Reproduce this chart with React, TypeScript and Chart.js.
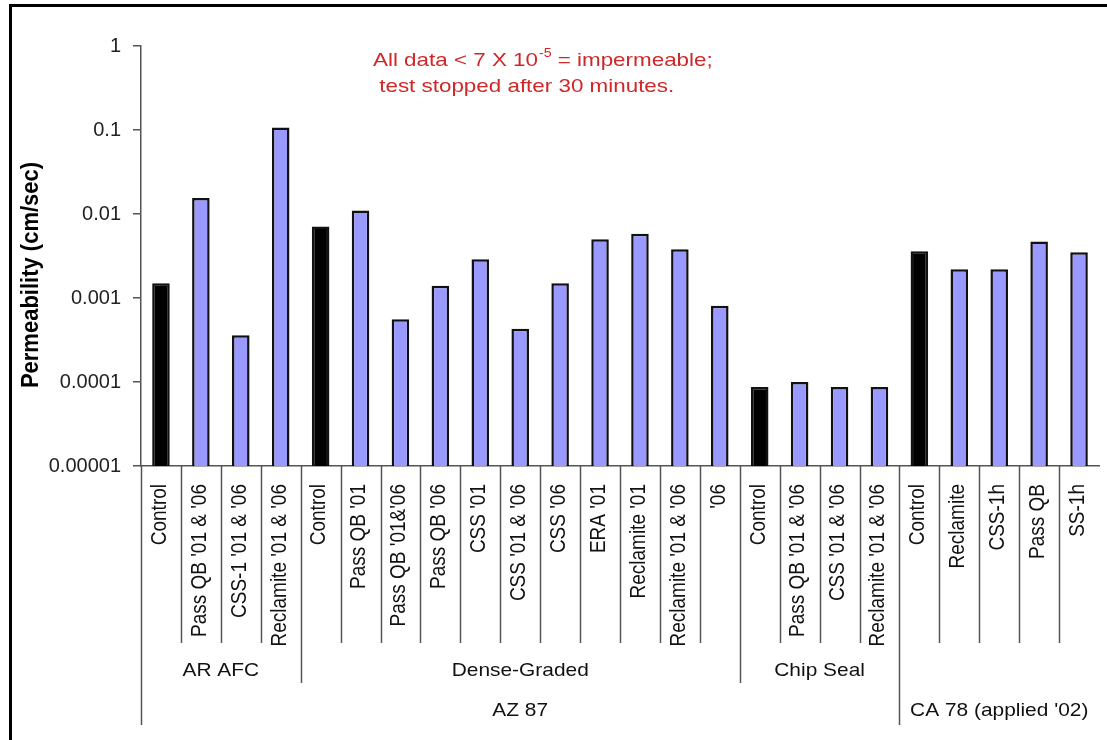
import React, { useEffect, useRef } from "react";
import { Chart, registerables } from "chart.js";

Chart.register(...registerables);

const FONT = "'Liberation Sans', Arial, Helvetica, sans-serif";

const categories = [
  "Control", "Pass QB '01 & '06", "CSS-1 '01 & '06", "Reclamite '01 & '06",
  "Control", "Pass QB '01", "Pass QB '01&'06", "Pass QB '06", "CSS '01", "CSS '01 & '06",
  "CSS '06", "ERA '01", "Reclamite '01", "Reclamite '01 & '06", "'06",
  "Control", "Pass QB '01 & '06", "CSS '01 & '06", "Reclamite '01 & '06",
  "Control", "Reclamite", "CSS-1h", "Pass QB", "SS-1h",
];

const permeability = [
  0.0015, 0.0155, 0.00036, 0.107,
  0.0071, 0.011, 0.00056, 0.0014, 0.0029, 0.00043, 0.0015, 0.005, 0.0058, 0.0038, 0.00081,
  0.000087, 0.0001, 0.000087, 0.000087,
  0.0036, 0.0022, 0.0022, 0.0047, 0.0035,
];

const subGroupLabels = ["AR AFC", "Dense-Graded", "Chip Seal", ""];
const subGroupStarts = [0, 4, 15, 19];
const subGroupEnds = [3, 14, 18, 23];

const mainGroupLabels = ["AZ 87", "CA 78 (applied '02)"];
const mainGroupStarts = [0, 19];
const mainGroupEnds = [18, 23];

const yTickValues = [0.00001, 0.0001, 0.001, 0.01, 0.1, 1];
const yTickLabels = ["0.00001", "0.0001", "0.001", "0.01", "0.1", "1"];

const yTitle = "Permeability (cm/sec)";
const noteLine1a = "All data < 7 X 10";
const noteSup = "-5";
const noteLine1b = " = impermeable;";
const noteLine2 = " test stopped after 30 minutes.";

const BLUE = "#9999FF";
const LINE = "#555555";
const RED = "#D02828";

function drawStretched(
  ctx: CanvasRenderingContext2D,
  text: string,
  x: number,
  y: number,
  sx: number,
  rotate: boolean,
  align: CanvasTextAlign,
  baseline: CanvasTextBaseline
) {
  ctx.save();
  ctx.translate(x, y);
  ctx.scale(sx, 1);
  if (rotate) ctx.rotate(-Math.PI / 2);
  ctx.textAlign = align;
  ctx.textBaseline = baseline;
  ctx.fillText(text, 0, 0);
  ctx.restore();
}

const overlayPlugin = {
  id: "overlay",
  afterDraw(chart: any) {
    const ctx: CanvasRenderingContext2D = chart.ctx;
    const xs = chart.scales.x;
    const axisY = chart.chartArea.bottom;
    const w = xs.getPixelForValue(1) - xs.getPixelForValue(0);
    const boundary = (i: number) => xs.getPixelForValue(i) - w / 2;

    ctx.save();
    // frame
    ctx.fillStyle = "#000";
    ctx.fillRect(9, 4, 1098, 3);
    ctx.fillRect(9, 4, 3, 736);

    // dividers
    ctx.strokeStyle = LINE;
    ctx.lineWidth = 1.5;
    for (let i = 0; i < categories.length; i++) {
      let bottom = axisY + 177;
      if (mainGroupStarts.includes(i)) bottom = axisY + 259;
      else if (subGroupStarts.includes(i)) bottom = axisY + 217;
      const bx = Math.round(boundary(i)) + 0.5;
      ctx.beginPath();
      ctx.moveTo(bx, axisY);
      ctx.lineTo(bx, bottom);
      ctx.stroke();
    }

    // category labels
    ctx.fillStyle = "#111";
    ctx.font = `19px ${FONT}`;
    for (let i = 0; i < categories.length; i++) {
      const cx = xs.getPixelForValue(i) - 1;
      drawStretched(ctx, categories[i], cx, axisY + 18, 1.12, true, "right", "middle");
    }

    // sub group labels
    ctx.font = `19px ${FONT}`;
    for (let g = 0; g < subGroupLabels.length; g++) {
      if (!subGroupLabels[g]) continue;
      const cx = (boundary(subGroupStarts[g]) + boundary(subGroupEnds[g] + 1)) / 2;
      drawStretched(ctx, subGroupLabels[g], cx, axisY + 210, 1.1, false, "center", "alphabetic");
    }
    // main group labels
    for (let g = 0; g < mainGroupLabels.length; g++) {
      const endB = mainGroupEnds[g] + 1 >= categories.length ? xs.right : boundary(mainGroupEnds[g] + 1);
      const cx = (boundary(mainGroupStarts[g]) + endB) / 2;
      drawStretched(ctx, mainGroupLabels[g], cx, axisY + 250, 1.1, false, "center", "alphabetic");
    }

    // y title
    ctx.font = `bold 22px ${FONT}`;
    ctx.fillStyle = "#000";
    drawStretched(ctx, yTitle, 31, 275, 1.12, true, "center", "middle");

    // note
    ctx.fillStyle = RED;
    ctx.font = `19px ${FONT}`;
    const sx = 295 / ctx.measureText(noteLine2.trim()).width;
    let x0 = 373;
    drawStretched(ctx, noteLine1a, x0, 66, sx, false, "left", "alphabetic");
    x0 += ctx.measureText(noteLine1a).width * sx + 1;
    ctx.font = `12px ${FONT}`;
    drawStretched(ctx, noteSup, x0, 57, sx, false, "left", "alphabetic");
    x0 += ctx.measureText(noteSup).width * sx;
    ctx.font = `19px ${FONT}`;
    drawStretched(ctx, noteLine1b, x0, 66, sx, false, "left", "alphabetic");
    drawStretched(ctx, noteLine2, 373, 92, sx, false, "left", "alphabetic");
    ctx.restore();
  },
};

export default function App() {
  const ref = useRef<HTMLCanvasElement | null>(null);

  useEffect(() => {
    if (!ref.current) return;
    const chart = new Chart(ref.current, {
      type: "bar",
      data: {
        labels: categories,
        datasets: [
          {
            data: permeability,
            backgroundColor: categories.map((c) => (c === "Control" ? "#000000" : BLUE)),
            borderColor: "#111111",
            borderWidth: 2.5,
            borderSkipped: "start",
            barPercentage: 0.44,
            categoryPercentage: 1,
          },
        ],
      },
      options: {
        responsive: false,
        animation: false,
        devicePixelRatio: 1,
        layout: { padding: { top: 46, right: 8, left: 0, bottom: 0 } },
        plugins: { legend: { display: false }, tooltip: { enabled: false } },
        scales: {
          x: {
            type: "category",
            offset: true,
            grid: { display: false },
            ticks: { display: false },
            border: { display: true, color: LINE, width: 1.5 },
            afterFit: (s: any) => {
              s.height = 274;
            },
          },
          y: {
            type: "logarithmic",
            min: 0.00001,
            max: 1,
            afterBuildTicks: (s: any) => {
              s.ticks = yTickValues.map((v) => ({ value: v }));
            },
            afterFit: (s: any) => {
              s.width = 141;
            },
            ticks: {
              autoSkip: false,
              padding: 12,
              color: "#222",
              font: { family: FONT, size: 20 },
              callback: (_v: any, i: number) => yTickLabels[i],
            },
            grid: {
              display: true,
              drawOnChartArea: false,
              drawTicks: true,
              tickLength: 8,
              color: LINE,
              lineWidth: 1.5,
            },
            border: { display: true, color: LINE, width: 1.5 },
          },
        },
      },
      plugins: [overlayPlugin],
    } as any);
    return () => chart.destroy();
  }, []);

  return (
    <div style={{ position: "fixed", left: 0, top: 0, width: 1107, height: 740, background: "#fff" }}>
      <canvas ref={ref} width={1107} height={740} style={{ display: "block" }} />
    </div>
  );
}
